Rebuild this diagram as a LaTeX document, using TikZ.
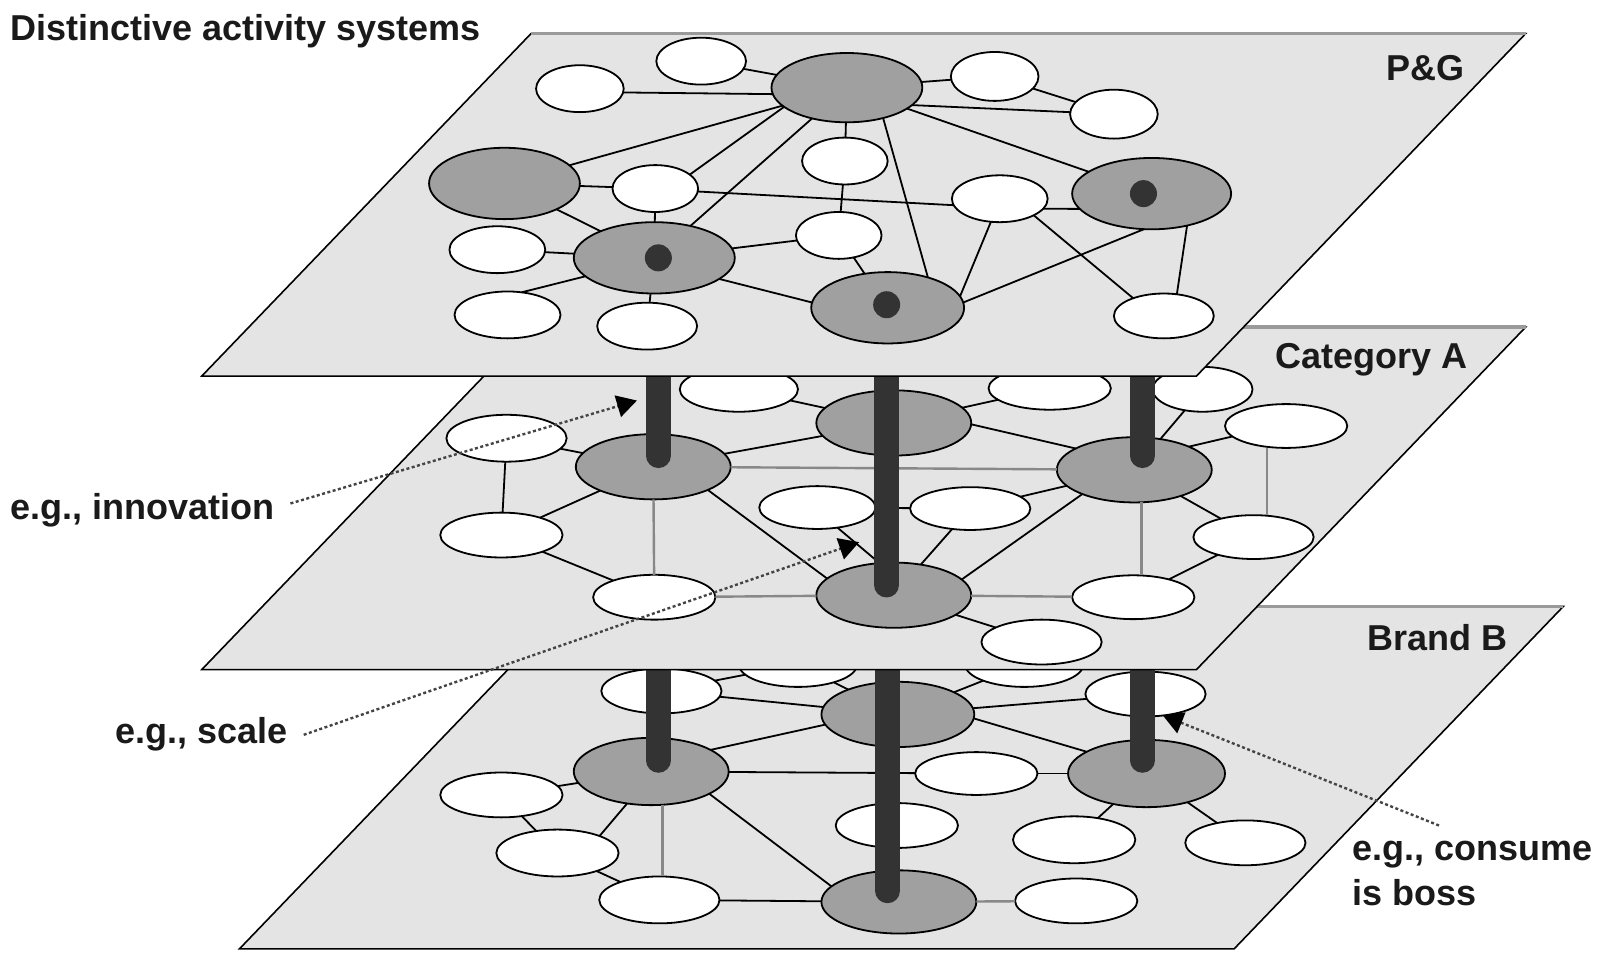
\documentclass[tikz,border=0pt]{standalone}
\usepackage{fontspec}
\setmainfont{Liberation Sans}
\usetikzlibrary{shapes.geometric,arrows.meta}
\definecolor{planefill}{HTML}{E4E4E4}
\definecolor{planetop}{HTML}{9A9A9A}
\definecolor{nodegray}{HTML}{A0A0A0}
\definecolor{stickc}{HTML}{333333}
\definecolor{edgegray}{HTML}{888888}
\definecolor{dotc}{HTML}{444444}
\definecolor{textc}{HTML}{1A1A1A}
\tikzset{
  plane/.style={fill=planefill, draw=black, line width=1.6pt, line join=miter},
  planetopedge/.style={draw=planetop, line width=3.5pt},
  nb/.style={ellipse, draw=black, line width=1.8pt, inner sep=0pt, outer sep=0pt},
  wn/.style 2 args={nb, fill=white, minimum width={#1*2.0382pt}, minimum height={#2*2.0382pt}},
  gn/.style 2 args={nb, fill=nodegray, minimum width={#1*2.0382pt}, minimum height={#2*2.0382pt}},
  dotn/.style={circle, fill=stickc, draw=none, minimum size=27pt, inner sep=0pt},
  ed/.style={draw=black, line width=1.8pt},
  ged/.style={draw=edgegray, line width=2.4pt},
  stick/.style={draw=stickc, line width=25pt, line cap=round},
  callout/.style={draw=dotc, line width=2.4pt, dash pattern=on 3pt off 2.5pt,
    -{Triangle[length=20pt,width=22pt,color=black]}},
  lbl/.style={font=\bfseries\fontsize{36}{44}\selectfont, inner sep=0pt, anchor=base west, text=textc},
}
\begin{document}
\begin{tikzpicture}[x=1.0191pt,y=-1.0191pt]
\useasboundingbox (0,0) rectangle (1568,938);
\fill[white] (0,0) rectangle (1568,938);

% ---------------- bottom plane: Brand B ----------------
\path[plane] (558,595) -- (1534,595) -- (1211,931) -- (235,931) -- cycle;
\draw[planetopedge] (558,595) -- (1534,595);

\node[wn={59}{22}] (b1) at (649,678) {};
\node[wn={58}{22}] (b2) at (783,652) {};
\node[gn={75}{32}] (b3) at (881,701) {};
\node[wn={59}{22}] (b4) at (1124,681) {};
\node[wn={58}{22}] (b5) at (1005,652) {};
\node[gn={76}{33}] (b6) at (639,757) {};
\node[wn={60}{22}] (b7) at (492,780) {};
\node[wn={60}{23}] (b8) at (547,837) {};
\node[wn={59}{23}] (b9) at (647,883) {};
\node[wn={60}{21}] (b10) at (958,759) {};
\node[wn={60}{22}] (b11) at (880,810) {};
\node[gn={76}{31}] (b12) at (882,885) {};
\node[gn={77}{33}] (b13) at (1125,759) {};
\node[wn={60}{23}] (b14) at (1054,824) {};
\node[wn={59}{22}] (b15) at (1222,827) {};
\node[wn={60}{22}] (b16) at (1056,884) {};
\coordinate (vC) at (650,0);

\draw[ed] (b1) -- (b2);
\draw[ed] (b1) -- (b3);
\draw[ed] (b2) -- (b3);
\draw[ed] (b3) -- (b5);
\draw[ed] (b3) -- (b4);
\draw[ed] (b3.-3) -- (b13.160.5);
\draw[ed] (b6.20) -- (b3.-172);
\draw[ed] (b6) -- (b7);
\draw[ed] (b6.-127) -- (b8.22.7);
\draw[ged] (b6.south -| vC) -- (b9.north -| vC);
\draw[ed] (b6) -- (b10);
\draw[ed] (b10) -- (b13);
\draw[ed] (b6.-21.6) -- (b12.167);
\draw[ed] (b7) -- (b8);
\draw[ed] (b8) -- (b9);
\draw[ed] (b9) -- (b12);
\draw[ged] (b12) -- (b16);
\draw[ed] (b13) -- (b14);
\draw[ed] (b13) -- (b15);

% lower stick segments
\coordinate (sLu) at (646,630); \coordinate (sLb) at (646,746);
\coordinate (sCu) at (871,630); \coordinate (sCb) at (871,874);
\coordinate (sRu) at (1121,630); \coordinate (sRb) at (1121,746);
\draw[stick] (sLu) -- (sLb);
\draw[stick] (sCu) -- (sCb);
\draw[stick] (sRu) -- (sRb);

% ---------------- middle plane: Category A ----------------
\path[plane] (521,321) -- (1497,321) -- (1174,657) -- (198,657) -- cycle;
\draw[planetopedge] (521,321) -- (1497,321);

\node[wn={58}{22}] (m1) at (725,382) {};
\node[gn={76}{32}] (m2) at (877,415) {};
\node[wn={60}{21}] (m3) at (1030,381) {};
\node[wn={49}{22}] (m4) at (1180,382) {};
\node[wn={60}{21.5}] (m5) at (1262,418) {};
\node[wn={59}{23}] (m6) at (497,430) {};
\node[gn={76}{32}] (m7) at (641,458) {};
\node[gn={76}{32}] (m8) at (1113,461) {};
\node[wn={60}{22}] (m9) at (492,525) {};
\node[wn={57}{21}] (m10) at (802,498) {};
\node[wn={59}{21}] (m11) at (952,499) {};
\node[wn={59}{21.5}] (m12) at (1230,527) {};
\node[wn={60}{22}] (m13) at (642,586) {};
\node[gn={76}{32}] (m14) at (877,584) {};
\node[wn={60}{21.5}] (m15) at (1112,586) {};
\node[wn={59}{22}] (m16) at (1022,630) {};
\coordinate (vA) at (1243,0);
\coordinate (vB) at (1120,0);

\draw[ed] (m1) -- (m2);
\draw[ed] (m2) -- (m3);
\draw[ed] (m7) -- (m2);
\draw[ed] (m2.-1.5) -- (m8.160);
\draw[ed] (m8) -- (m4);
\draw[ed] (m8.23.6) -- (m5.-169);
\draw[ged] (m5.south -| vA) -- (m12.north -| vA);
\draw[ed] (m6) -- (m7);
\draw[ed] (m6) -- (m9);
\draw[ed] (m7) -- (m9);
\draw[ged] (m7) -- (m13);
\draw[ed] (m7.-23) -- (m14.166);
\draw[ged] (m7) -- (m8);
\draw[ed] (m10) -- (m11);
\draw[ed] (m10.-45) -- (m14.114);
\draw[ed] (m11) -- (m14);
\draw[ed] (m11) -- (m8);
\draw[ed] (m8.-155) -- (m14.13.6);
\draw[ed] (m8) -- (m12);
\draw[ged] (m8.south -| vB) -- (m15.north -| vB);
\draw[ed] (m12) -- (m15);
\draw[ged] (m13) -- (m14);
\draw[ged] (m14) -- (m15);
\draw[ed] (m14) -- (m16);
\draw[ed] (m9) -- (m13);

% upper stick segments
\coordinate (sLt) at (646,340); \coordinate (sLm) at (646,447);
\coordinate (sCt) at (870,340); \coordinate (sCm) at (870,574);
\coordinate (sRt) at (1121,340); \coordinate (sRm) at (1121,447);
\draw[stick] (sLt) -- (sLm);
\draw[stick] (sCt) -- (sCm);
\draw[stick] (sRt) -- (sRm);

% ---------------- top plane: P&G ----------------
\path[plane] (521,33) -- (1497,33) -- (1174,369) -- (198,369) -- cycle;
\draw[planetopedge] (521,33) -- (1497,33);

\node[wn={43}{23}] (t1) at (569,87) {};
\node[wn={44}{23}] (t2) at (688,60) {};
\node[gn={74}{34}] (t3) at (831,86) {};
\node[wn={43}{24}] (t4) at (976,75) {};
\node[wn={43}{24}] (t5) at (1093,112) {};
\node[gn={74}{35}] (t6) at (495,180) {};
\node[wn={42}{23}] (t7) at (643,185) {};
\node[wn={42}{23}] (t8) at (829,158) {};
\node[wn={47}{23}] (t9) at (981,195) {};
\node[gn={78}{35}] (t10) at (1130,190) {};
\node[wn={47}{23}] (t11) at (488,245) {};
\node[gn={79}{35}] (t12) at (642,253) {};
\node[wn={42}{23}] (t13) at (823,231) {};
\node[wn={52}{23}] (t14) at (498,309) {};
\node[wn={49}{23}] (t15) at (635,320) {};
\node[gn={75}{35}] (t16) at (871,302) {};
\node[wn={49}{22}] (t17) at (1142,310) {};

\draw[ed] (t1.-5) -- (t3.-175);
\draw[ed] (t2) -- (t3);
\draw[ed] (t3) -- (t4);
\draw[ed] (t3.-15) -- (t5);
\draw[ed] (t4) -- (t5);
\draw[ed] (t3) -- (t6);
\draw[ed] (t3.-163) -- (t7.22);
\draw[ed] (t3) -- (t12);
\draw[ed] (t3) -- (t8);
\draw[ed] (t3.-40) -- (t16.37);
\draw[ed] (t3) -- (t10);
\draw[ed] (t6) -- (t7);
\draw[ed] (t6) -- (t12);
\draw[ed] (t7) -- (t12);
\draw[ed] (t7.-4) -- (t9.-172);
\draw[ed] (t8) -- (t13);
\draw[ed] (t9.-13) -- (t10.-168);
\draw[ed] (t9.-111) -- (t16.9);
\draw[ed] (t9.-26) -- (t17.150);
\draw[ed] (t10.-102) -- (t16.4);
\draw[ed] (t10.-42) -- (t17.59);
\draw[ed] (t11) -- (t12);
\draw[ed] (t12) -- (t13);
\draw[ed] (t12.-165) -- (t14.58);
\draw[ed] (t12) -- (t15);
\draw[ed] (t12.-18) -- (t16.176);
\draw[ed] (t13) -- (t16);

\node[dotn] (td12) at (646,253) {};
\node[dotn] (td16) at (870,299) {};
\node[dotn] (td10) at (1122,190) {};

% ---------------- labels and callouts ----------------
\node[lbl] (title) at (10,40) {Distinctive activity systems};
\node[lbl, anchor=base east] (lpg) at (1437,78.5) {P\&G};
\node[lbl, anchor=base east] (lcat) at (1440,362) {Category A};
\node[lbl, anchor=base east] (lbr) at (1479,638) {Brand B};

\node[lbl] (linn) at (10,510) {e.g., innovation};
\coordinate (cInnS) at (285,494); \coordinate (cInnE) at (625,393);
\draw[callout] (cInnS) -- (cInnE);

\node[lbl] (lsc) at (113,730) {e.g., scale};
\coordinate (cScS) at (298,721); \coordinate (cScE) at (843,532);
\draw[callout] (cScS) -- (cScE);

\node[lbl] (lco1) at (1327,844) {e.g., consume};
\node[lbl] (lco2) at (1327,888) {is boss};
\coordinate (cCoS) at (1412,810); \coordinate (cCoE) at (1141,702);
\draw[callout] (cCoS) -- (cCoE);
\end{tikzpicture}
\end{document}
